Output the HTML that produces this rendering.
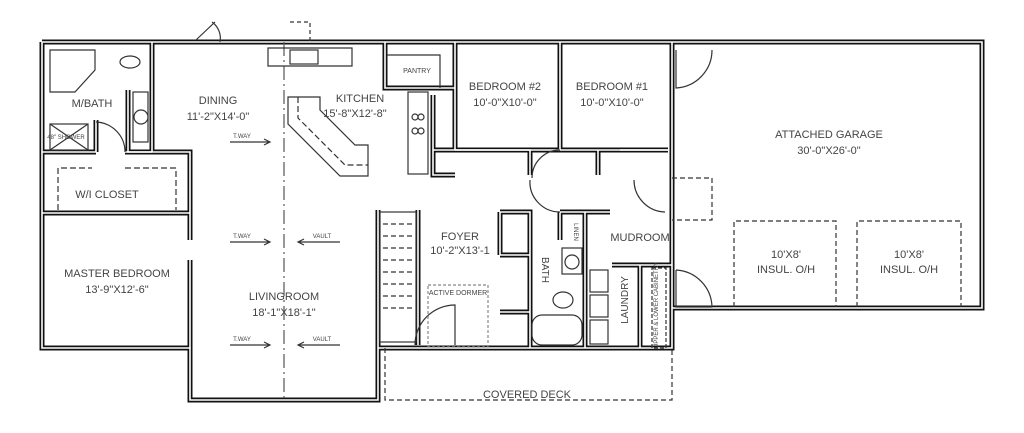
<!DOCTYPE html>
<html><head><meta charset="utf-8"><style>
html,body{margin:0;padding:0;background:#fff;width:1024px;height:433px;overflow:hidden}
text{font-family:"Liberation Sans Narrow","Liberation Sans",sans-serif;fill:#444;}
</style></head><body>
<svg width="1024" height="433" viewBox="0 0 1024 433" xmlns="http://www.w3.org/2000/svg">
<defs>
<g id="walls" fill="none">
 <path d="M42,42 H672 M42,42 V348 H190 V400 H378 V210 M378,348 H672 V42"/>
 <path d="M672,42 H982 V308 H672"/>
 <path d="M152,42 V152 M42,152 H96 M125,152 H190 V213 M42,213 H190 V240 M190,260 V348"/>
 <path d="M96,120 V152 M128,90 V152 H152"/>
 <path d="M385,42 V88 H455 V42 M455,88 V150 M560,42 V150 M455,150 H668"/>
 <path d="M433,95 V175 H455 M433,150 H530 V175"/>
 <path d="M598,150 V175 M620,150 H668"/>
 <path d="M500,212 H530 V348 M500,312 H530 M500,212 V255 M530,255 H500"/>
 <path d="M560,212 H610 M585,212 V348 M560,212 V240"/>
 <path d="M612,265 H672 M640,265 V348"/>
 <path d="M418,210 V345"/>
</g>
</defs>
<g stroke="#111" stroke-width="5"><use href="#walls"/></g>
<g stroke="#fff" stroke-width="1.6"><use href="#walls"/></g>

<g fill="none" stroke="#333" stroke-width="1.2">
 <path d="M284,42 V400" stroke-dasharray="14,4,2,4" stroke="#555"/>
 <path d="M268,48 H352 V66 H268 Z"/>
 <rect x="290" y="50" width="28" height="14"/>
 <path d="M290,22 H310 V42" stroke-dasharray="4,3"/>
 <path d="M288,97 H320 V110 L355,145 H368 V176 H340 L288,124 Z"/>
 <path d="M298,97 V118 L345,165 H368" stroke-dasharray="6,3"/>
 <path d="M387,55 H440 V88"/>
 <rect x="408" y="92" width="20" height="82"/>
 <circle cx="415" cy="117" r="3"/><circle cx="421" cy="117" r="3"/><circle cx="415" cy="131" r="3"/><circle cx="421" cy="131" r="3"/>
 <path d="M50,50 H95 V70 L75,92 H50 Z"/>
 <ellipse cx="130" cy="62" rx="10" ry="6"/>
 <rect x="133" y="92" width="15" height="50"/><circle cx="141" cy="117" r="7"/>
 <rect x="50" y="124" width="38" height="26"/><path d="M50,124 L88,150 M88,124 L50,150"/>
 <path d="M58,210 V168 H92 M125,168 H176 V210" stroke-dasharray="6,3"/>
 <path d="M96,122 A30,30 0 0 1 125,152"/>
 <path d="M676,50 V88 A38,38 0 0 0 712,50"/>
 <path d="M676,270 V307 H712 A38,38 0 0 0 676,270"/>
 <path d="M455,345 V305 A40,40 0 0 0 415,345"/>
 <path d="M530,180 A30,30 0 0 0 560,212"/>
 <path d="M665,212 A32,32 0 0 1 634,180"/>
 <path d="M560,150 A28,28 0 0 0 532,178"/>
 <path d="M196,40 L215,22 M220,42 A20,20 0 0 0 212,22"/>
 <path d="M672,178 H712 V220 H672" stroke-dasharray="5,3"/>
 <path d="M734,307 V221 H836 V307" stroke-dasharray="5,3"/>
 <path d="M857,307 V221 H961 V307" stroke-dasharray="5,3"/>
 <path d="M385,348 V400 H672 V348" stroke-dasharray="5,3"/>
 <rect x="428" y="285" width="60" height="62" stroke-dasharray="3,2" stroke="#888"/>
 <rect x="380" y="212" width="36" height="130"/>
 <path d="M383,224 H414 M383,236 H414 M383,248 H414 M383,260 H414 M383,272 H414 M383,284 H414 M383,296 H414 M383,308 H414" stroke-dasharray="5,3"/>
 <rect x="532" y="315" width="50" height="30" rx="10"/>
 <rect x="562" y="248" width="20" height="26"/><circle cx="572" cy="262" r="7"/>
 <ellipse cx="563" cy="300" rx="10" ry="8"/>
 <rect x="590" y="270" width="18" height="22"/><rect x="590" y="295" width="18" height="22"/><rect x="590" y="320" width="18" height="24"/>
 <rect x="652" y="268" width="14" height="80" stroke-dasharray="4,2"/>
 <path d="M230,142 H270 M264,139 L270,142 L264,145"/>
 <path d="M230,242 H270 M264,239 L270,242 L264,245"/>
 <path d="M230,345 H270 M264,342 L270,345 L264,348"/>
 <path d="M298,242 H340 M304,239 L298,242 L304,245"/>
 <path d="M298,345 H340 M304,342 L298,345 L304,348"/>
</g>

<g font-size="11" text-anchor="middle">
 <text x="218" y="104">DINING</text>
 <text x="218" y="120">11'-2"X14'-0"</text>
 <text x="360" y="102">KITCHEN</text>
 <text x="355" y="117">15'-8"X12'-8"</text>
 <text x="417" y="73" font-size="7">PANTRY</text>
 <text x="505" y="90">BEDROOM #2</text>
 <text x="505" y="106">10'-0"X10'-0"</text>
 <text x="612" y="90">BEDROOM #1</text>
 <text x="612" y="106">10'-0"X10'-0"</text>
 <text x="829" y="138">ATTACHED GARAGE</text>
 <text x="829" y="154">30'-0"X26'-0"</text>
 <text x="786" y="258">10'X8'</text>
 <text x="786" y="273">INSUL. O/H</text>
 <text x="909" y="258">10'X8'</text>
 <text x="909" y="273">INSUL. O/H</text>
 <text x="92" y="107">M/BATH</text>
 <text x="107" y="198">W/I CLOSET</text>
 <text x="117" y="277">MASTER BEDROOM</text>
 <text x="117" y="293">13'-9"X12'-6"</text>
 <text x="284" y="300">LIVINGROOM</text>
 <text x="284" y="316">18'-1"X18'-1"</text>
 <text x="460" y="240">FOYER</text>
 <text x="460" y="254">10'-2"X13'-1</text>
 <text x="640" y="241">MUDROOM</text>
 <text x="527" y="398">COVERED DECK</text>
 <text x="458" y="295" font-size="7">ACTIVE DORMER</text>
 <text x="242" y="138" font-size="6">T.WAY</text>
 <text x="242" y="238" font-size="6">T.WAY</text>
 <text x="242" y="341" font-size="6">T.WAY</text>
 <text x="322" y="238" font-size="6">VAULT</text>
 <text x="322" y="341" font-size="6">VAULT</text>
 <text x="66" y="139" font-size="6">48" SHOWER</text>
 <text transform="translate(542,270) rotate(90)" font-size="10">BATH</text>
 <text transform="translate(628,300) rotate(-90)" font-size="10">LAUNDRY</text>
 <text transform="translate(658,305) rotate(-90)" font-size="6">UPPER &amp; LOWER CABINETRY</text>
 <text transform="translate(574,232) rotate(90)" font-size="6">LINEN</text>
</g>
</svg>
</body></html>
